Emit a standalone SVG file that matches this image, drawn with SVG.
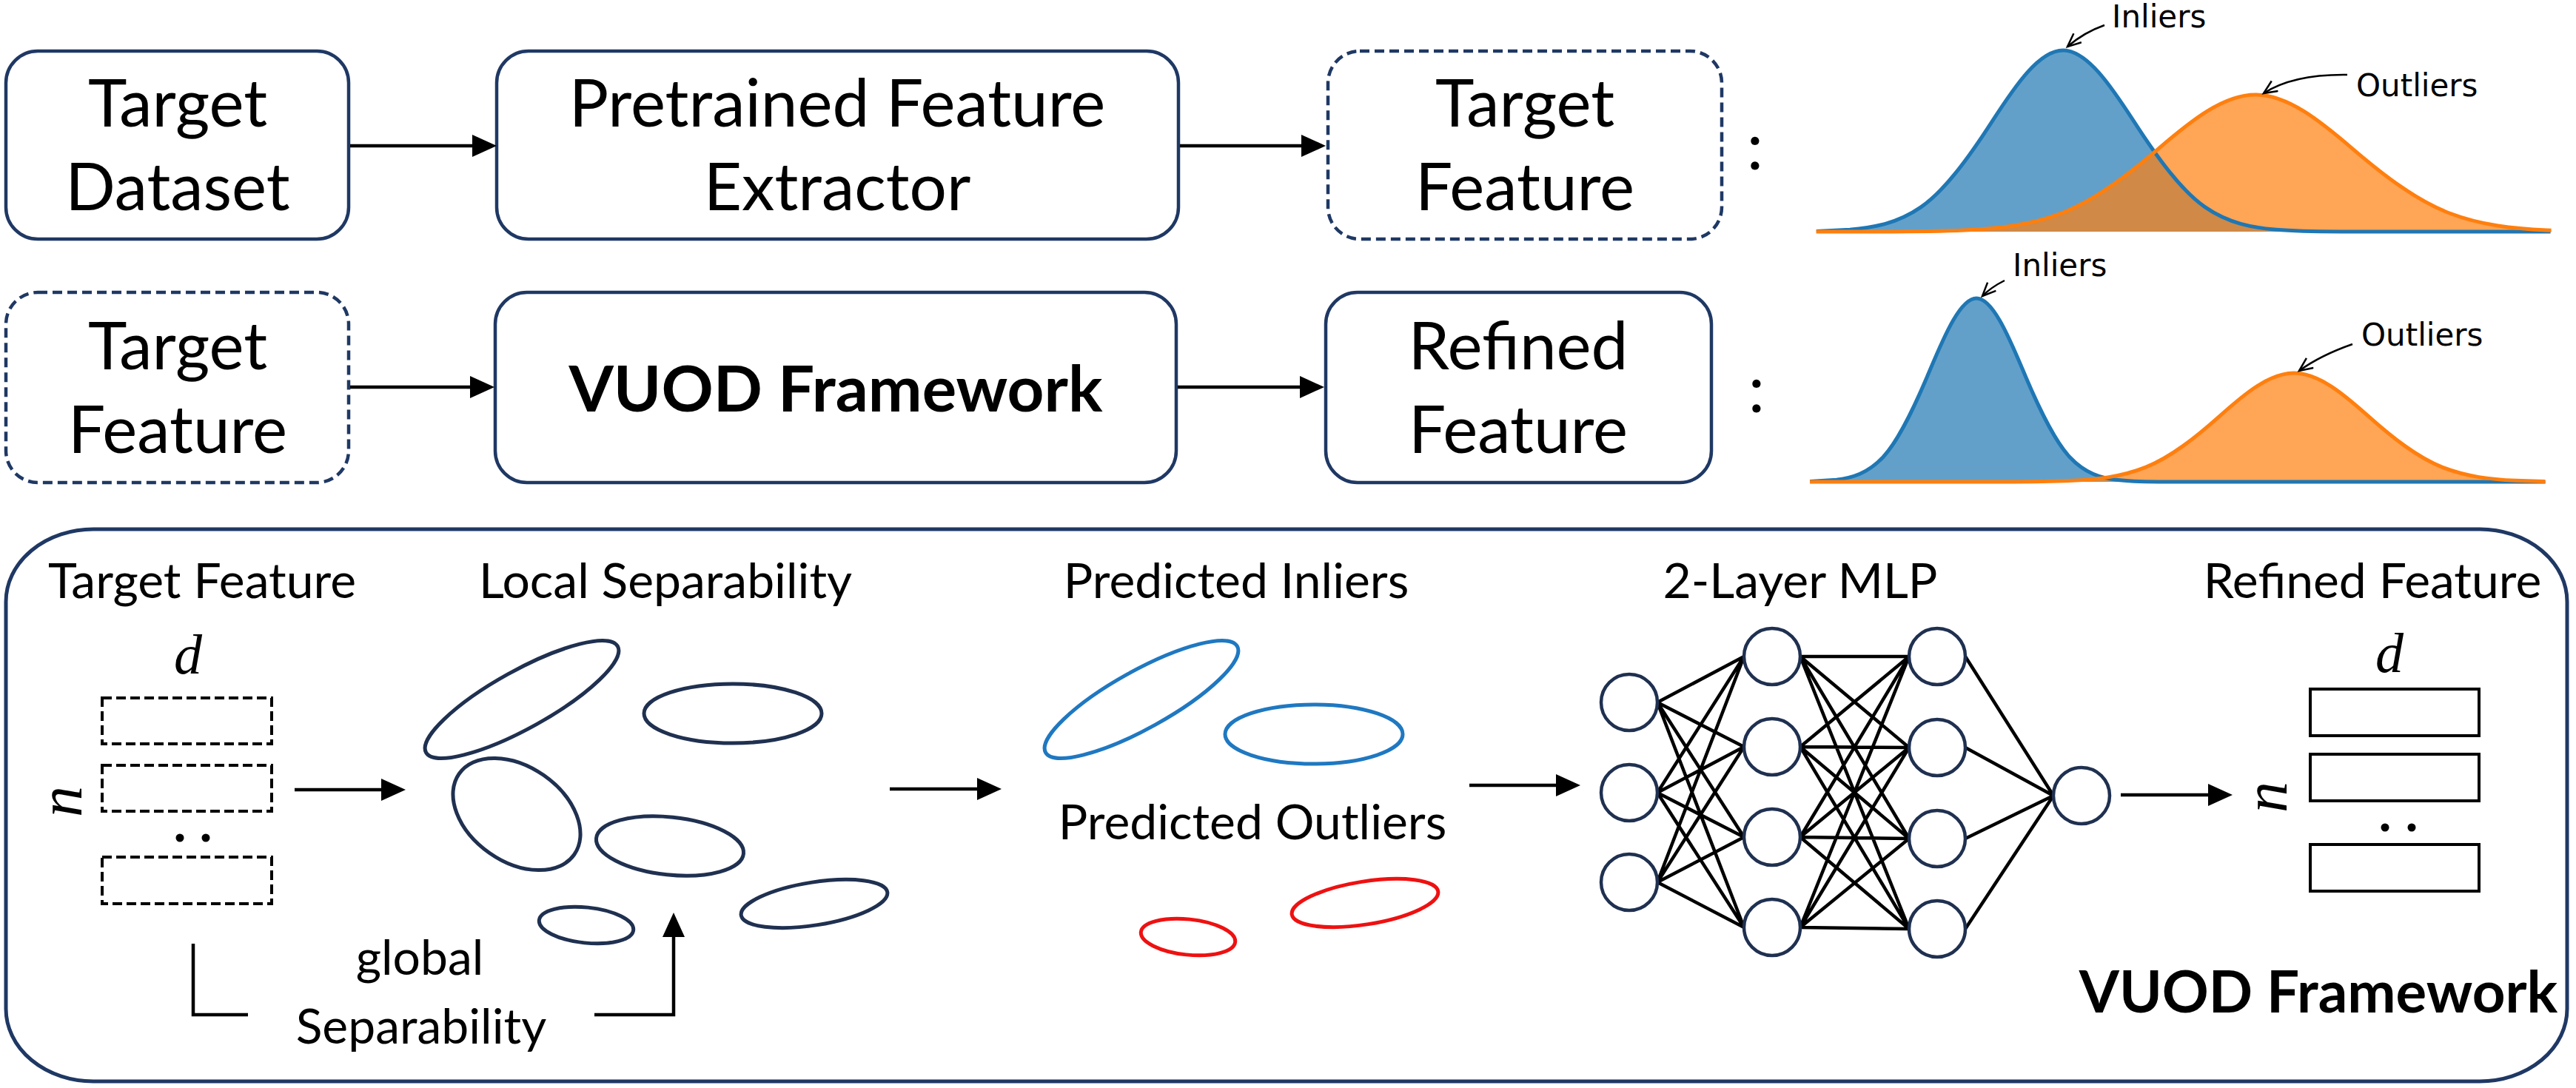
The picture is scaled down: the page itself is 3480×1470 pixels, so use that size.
<svg xmlns="http://www.w3.org/2000/svg" width="3480" height="1470" viewBox="0 0 3480 1470">
<style>
.box{fill:#fff;stroke:#1F3864;stroke-width:4.5}
.dbox{fill:#fff;stroke:#1F3864;stroke-width:4.5;stroke-dasharray:13 7}
.t84{font-family:Lato,"Liberation Sans",sans-serif;font-size:89px;fill:#000;text-anchor:middle}
.b84{font-family:Lato,"Liberation Sans",sans-serif;font-size:87px;font-weight:bold;fill:#000;text-anchor:middle}
.t58{font-family:Lato,"Liberation Sans",sans-serif;font-size:66px;fill:#000;text-anchor:middle}
.b70{font-family:Lato,"Liberation Sans",sans-serif;font-size:78px;font-weight:bold;fill:#000;text-anchor:middle}
.t42{font-family:"DejaVu Sans",sans-serif;font-size:42px;fill:#000}
.math{font-family:"Liberation Serif","DejaVu Serif",serif;font-style:italic;fill:#000;text-anchor:middle}
.arr{fill:none;stroke:#000;stroke-width:4.5;marker-end:url(#ah)}
.brk{fill:none;stroke:#000;stroke-width:4.5}
.ell{fill:none;stroke:#1F3050;stroke-width:5}
.ellb{fill:none;stroke:#1F78C1;stroke-width:5}
.ellr{fill:none;stroke:#EE1111;stroke-width:5}
.node{fill:#fff;stroke:#1F3050;stroke-width:4.5}
.drect{fill:none;stroke:#000;stroke-width:4;stroke-dasharray:13 6}
.srect{fill:none;stroke:#000;stroke-width:4}
.mlp{fill:none;stroke:#000;stroke-width:4.5}
.fb{fill:#1f77b4;fill-opacity:0.7}
.fo{fill:#ff7f0e;fill-opacity:0.7}
.lb{fill:none;stroke:#1f77b4;stroke-width:5}
.lo{fill:none;stroke:#ff7f0e;stroke-width:5}
.ann{fill:none;stroke:#000;stroke-width:2.5;marker-end:url(#va)}
</style>
<defs>
<marker id="ah" markerWidth="34" markerHeight="32" refX="8" refY="15" orient="auto" markerUnits="userSpaceOnUse">
<path d="M0,0 L33,15 L0,30 Z" fill="#000"/>
</marker>
<marker id="va" markerWidth="24" markerHeight="20" refX="19" refY="9" orient="auto" markerUnits="userSpaceOnUse">
<path d="M1,1 L19,9 L1,17" fill="none" stroke="#000" stroke-width="2.5"/>
</marker>
</defs>
<rect width="3480" height="1470" fill="#fff"/>

<!-- top row -->
<g id="target-dataset">
<rect class="box" x="8" y="69" width="463" height="254" rx="43"/>
<text class="t84" x="240" y="171">Target</text>
<text class="t84" x="240" y="284">Dataset</text>
</g>
<g id="pretrained-extractor">
<rect class="box" x="671" y="69" width="921" height="254" rx="43"/>
<text class="t84" x="1131" y="171">Pretrained Feature</text>
<text class="t84" x="1131" y="284">Extractor</text>
</g>
<g id="target-feature-top">
<rect class="dbox" x="1794" y="69" width="532" height="254" rx="43"/>
<text class="t84" x="2060" y="171">Target</text>
<text class="t84" x="2060" y="284">Feature</text>
</g>
<g id="colon1"><text class="t84" x="2371" y="229">:</text></g>

<g id="target-feature-2">
<rect class="dbox" x="8" y="395" width="463" height="257" rx="43"/>
<text class="t84" x="240" y="499">Target</text>
<text class="t84" x="240" y="612">Feature</text>
</g>
<g id="vuod-box">
<rect class="box" x="669" y="395" width="920" height="257" rx="43"/>
<text class="b84" x="1129" y="556">VUOD Framework</text>
</g>
<g id="refined-feature-top">
<rect class="box" x="1791" y="395" width="521" height="257" rx="43"/>
<text class="t84" x="2051" y="499">Refined</text>
<text class="t84" x="2051" y="612">Feature</text>
</g>
<g id="colon2"><text class="t84" x="2373" y="557">:</text></g>

<!-- distribution plot 1 -->
<g id="plot1">
<path class="fb" transform="translate(2787,313) scale(96,-245)" d="M -3.47,0.0024 L -3,0.0111 C -2.6667,0.0222 -2.3333,0.0451 -2,0.1353 C -1.6667,0.2255 -1.3333,0.4043 -1,0.6065 C -0.6667,0.8087 -0.3333,1 0,1 C 0.3333,1 0.6667,0.8087 1,0.6065 C 1.3333,0.4043 1.6667,0.2255 2,0.1353 C 2.3333,0.0451 2.6667,0.0222 3,0.0111 C 3.3333,0 3.6667,0.0007 4,0.0003 L 6.86,0 L -3.47,0 Z"/>
<path class="fo" transform="translate(3047,313) scale(131,-185)" d="M -4.53,0 L -4,0.0003 C -3.6667,0.0007 -3.3333,0 -3,0.0111 C -2.6667,0.0222 -2.3333,0.0451 -2,0.1353 C -1.6667,0.2255 -1.3333,0.4043 -1,0.6065 C -0.6667,0.8087 -0.3333,1 0,1 C 0.3333,1 0.6667,0.8087 1,0.6065 C 1.3333,0.4043 1.6667,0.2255 2,0.1353 C 2.3333,0.0451 2.6667,0.0222 3,0.0111 L 3.05,0.0094 L 3.05,0 Z"/>
<path class="lb" vector-effect="non-scaling-stroke" transform="translate(2787,313) scale(96,-245)" d="M -3.47,0.0024 L -3,0.0111 C -2.6667,0.0222 -2.3333,0.0451 -2,0.1353 C -1.6667,0.2255 -1.3333,0.4043 -1,0.6065 C -0.6667,0.8087 -0.3333,1 0,1 C 0.3333,1 0.6667,0.8087 1,0.6065 C 1.3333,0.4043 1.6667,0.2255 2,0.1353 C 2.3333,0.0451 2.6667,0.0222 3,0.0111 C 3.3333,0 3.6667,0.0007 4,0.0003 L 6.86,0"/>
<path class="lo" vector-effect="non-scaling-stroke" transform="translate(3047,313) scale(131,-185)" d="M -4.53,0 L -4,0.0003 C -3.6667,0.0007 -3.3333,0 -3,0.0111 C -2.6667,0.0222 -2.3333,0.0451 -2,0.1353 C -1.6667,0.2255 -1.3333,0.4043 -1,0.6065 C -0.6667,0.8087 -0.3333,1 0,1 C 0.3333,1 0.6667,0.8087 1,0.6065 C 1.3333,0.4043 1.6667,0.2255 2,0.1353 C 2.3333,0.0451 2.6667,0.0222 3,0.0111 L 3.05,0.0094"/>
<path class="ann" d="M 2843,34 Q 2815,44 2793,63"/>
<path class="ann" d="M 3171,101 Q 3098,100 3058,126"/>
<text class="t42" x="2853" y="37">Inliers</text>
<text class="t42" x="3183" y="130">Outliers</text>
</g>

<!-- distribution plot 2 -->
<g id="plot2">
<path class="fb" transform="translate(2670,651) scale(63,-248)" d="M -3.57,0.0017 L -3,0.0111 C -2.6667,0.0222 -2.3333,0.0451 -2,0.1353 C -1.6667,0.2255 -1.3333,0.4043 -1,0.6065 C -0.6667,0.8087 -0.3333,1 0,1 C 0.3333,1 0.6667,0.8087 1,0.6065 C 1.3333,0.4043 1.6667,0.2255 2,0.1353 C 2.3333,0.0451 2.6667,0.0222 3,0.0111 C 3.3333,0 3.6667,0.0007 4,0.0003 L 12.2,0 L -3.57,0 Z"/>
<path class="fo" transform="translate(3099,651) scale(100,-147)" d="M -6.54,0 L -4,0.0003 C -3.6667,0.0007 -3.3333,0 -3,0.0111 C -2.6667,0.0222 -2.3333,0.0451 -2,0.1353 C -1.6667,0.2255 -1.3333,0.4043 -1,0.6065 C -0.6667,0.8087 -0.3333,1 0,1 C 0.3333,1 0.6667,0.8087 1,0.6065 C 1.3333,0.4043 1.6667,0.2255 2,0.1353 C 2.3333,0.0451 2.6667,0.0222 3,0.0111 L 3.39,0.0032 L 3.39,0 Z"/>
<path class="lb" vector-effect="non-scaling-stroke" transform="translate(2670,651) scale(63,-248)" d="M -3.57,0.0017 L -3,0.0111 C -2.6667,0.0222 -2.3333,0.0451 -2,0.1353 C -1.6667,0.2255 -1.3333,0.4043 -1,0.6065 C -0.6667,0.8087 -0.3333,1 0,1 C 0.3333,1 0.6667,0.8087 1,0.6065 C 1.3333,0.4043 1.6667,0.2255 2,0.1353 C 2.3333,0.0451 2.6667,0.0222 3,0.0111 C 3.3333,0 3.6667,0.0007 4,0.0003 L 12.2,0"/>
<path class="lo" vector-effect="non-scaling-stroke" transform="translate(3099,651) scale(100,-147)" d="M -6.54,0 L -4,0.0003 C -3.6667,0.0007 -3.3333,0 -3,0.0111 C -2.6667,0.0222 -2.3333,0.0451 -2,0.1353 C -1.6667,0.2255 -1.3333,0.4043 -1,0.6065 C -0.6667,0.8087 -0.3333,1 0,1 C 0.3333,1 0.6667,0.8087 1,0.6065 C 1.3333,0.4043 1.6667,0.2255 2,0.1353 C 2.3333,0.0451 2.6667,0.0222 3,0.0111 L 3.39,0.0032"/>
<path class="ann" d="M 2708,379 Q 2690,388 2678,400"/>
<path class="ann" d="M 3178,465 Q 3135,480 3106,501"/>
<text class="t42" x="2719" y="373">Inliers</text>
<text class="t42" x="3190" y="467">Outliers</text>
</g>

<!-- framework panel -->
<g id="framework-panel">
<rect x="8" y="715" width="3460" height="746" rx="118" ry="98" fill="none" stroke="#1F3864" stroke-width="5"/>
<text class="b70" x="3132" y="1368">VUOD Framework</text>
</g>

<g id="target-feature-matrix">
<text class="t58" x="273" y="808">Target Feature</text>
<text class="math" x="254" y="910" font-size="76">d</text>
<text class="math" font-size="84" transform="translate(110,1083) rotate(-90)">n</text>
<rect class="drect" x="138" y="943" width="229" height="62"/>
<rect class="drect" x="138" y="1034" width="229" height="62"/>
<rect class="drect" x="138" y="1158" width="229" height="63"/>
<circle cx="243" cy="1132" r="5.5"/>
<circle cx="278" cy="1132" r="5.5"/>
</g>

<g id="local-separability">
<text class="t58" x="899" y="808">Local Separability</text>
<ellipse class="ell" cx="705" cy="945" rx="148" ry="39" transform="rotate(-29 705 945)"/>
<ellipse class="ell" cx="990" cy="964" rx="120" ry="40"/>
<ellipse class="ell" cx="698" cy="1100" rx="95" ry="64" transform="rotate(35 698 1100)"/>
<ellipse class="ell" cx="905" cy="1143" rx="100" ry="39" transform="rotate(6 905 1143)"/>
<ellipse class="ell" cx="1100" cy="1221" rx="100" ry="29" transform="rotate(-9 1100 1221)"/>
<ellipse class="ell" cx="792" cy="1250" rx="64" ry="24" transform="rotate(6 792 1250)"/>
</g>

<g id="global-separability">
<text class="t58" x="567" y="1317">global</text>
<text class="t58" x="569" y="1410">Separability</text>
</g>

<g id="predicted">
<text class="t58" x="1670" y="808">Predicted Inliers</text>
<ellipse class="ellb" cx="1542" cy="945" rx="148" ry="39" transform="rotate(-29 1542 945)"/>
<ellipse class="ellb" cx="1775" cy="992" rx="120" ry="40"/>
<text class="t58" x="1692" y="1134">Predicted Outliers</text>
<ellipse class="ellr" cx="1844" cy="1220" rx="100" ry="29" transform="rotate(-9 1844 1220)"/>
<ellipse class="ellr" cx="1605" cy="1266" rx="64" ry="24" transform="rotate(6 1605 1266)"/>
</g>

<g id="mlp">
<text class="t58" x="2432" y="808">2-Layer MLP</text>
<path class="mlp" d="M2239 949L2356 887M2239 949L2356 1009M2239 949L2356 1131M2239 949L2356 1253M2239 1071L2356 887M2239 1071L2356 1009M2239 1071L2356 1131M2239 1071L2356 1253M2239 1192L2356 887M2239 1192L2356 1009M2239 1192L2356 1131M2239 1192L2356 1253M2432 887L2579 887M2432 887L2579 1010M2432 887L2579 1133M2432 887L2579 1255M2432 1009L2579 887M2432 1009L2579 1010M2432 1009L2579 1133M2432 1009L2579 1255M2432 1131L2579 887M2432 1131L2579 1010M2432 1131L2579 1133M2432 1131L2579 1255M2432 1253L2579 887M2432 1253L2579 1010M2432 1253L2579 1133M2432 1253L2579 1255M2655 887L2774 1075M2655 1010L2774 1075M2655 1133L2774 1075M2655 1255L2774 1075"/>
<circle class="node" cx="2201" cy="949" r="38"/>
<circle class="node" cx="2201" cy="1071" r="38"/>
<circle class="node" cx="2201" cy="1192" r="38"/>
<circle class="node" cx="2394" cy="887" r="38"/>
<circle class="node" cx="2394" cy="1009" r="38"/>
<circle class="node" cx="2394" cy="1131" r="38"/>
<circle class="node" cx="2394" cy="1253" r="38"/>
<circle class="node" cx="2617" cy="887" r="38"/>
<circle class="node" cx="2617" cy="1010" r="38"/>
<circle class="node" cx="2617" cy="1133" r="38"/>
<circle class="node" cx="2617" cy="1255" r="38"/>
<circle class="node" cx="2812" cy="1075" r="38"/>
</g>

<g id="refined-feature-matrix">
<text class="t58" x="3205" y="808">Refined Feature</text>
<text class="math" x="3228" y="908" font-size="76">d</text>
<text class="math" font-size="84" transform="translate(3089,1077) rotate(-90)">n</text>
<rect class="srect" x="3121" y="931" width="228" height="63"/>
<rect class="srect" x="3121" y="1019" width="228" height="63"/>
<rect class="srect" x="3121" y="1141" width="228" height="63"/>
<circle cx="3222" cy="1118" r="5.5"/>
<circle cx="3258" cy="1118" r="5.5"/>
</g>

<g id="connectors">
<path class="arr" d="M473,197 H646"/>
<path class="arr" d="M1594,197 H1766"/>
<path class="arr" d="M473,523 H643"/>
<path class="arr" d="M1591,523 H1764"/>
<path class="arr" d="M398,1067 H523"/>
<path class="arr" d="M1202,1066 H1328"/>
<path class="arr" d="M1985,1061 H2110"/>
<path class="arr" d="M2865,1074 H2991"/>
<path class="brk" d="M261,1275 V1371 H335"/>
<path class="arr" d="M803,1371 H910 V1258"/>
</g>
</svg>
